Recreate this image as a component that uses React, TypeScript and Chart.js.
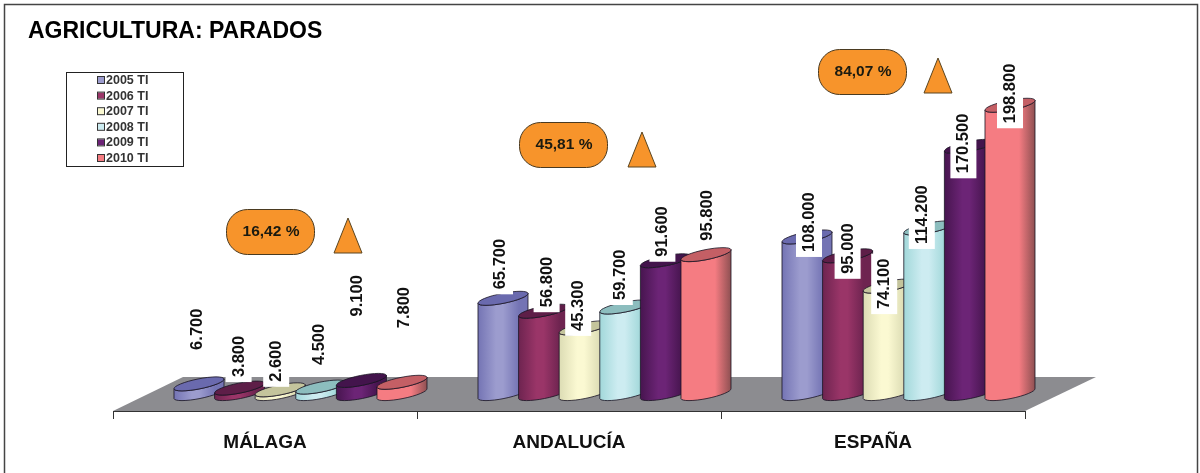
import React, { useEffect, useRef } from "react";
import { Chart, BarController, BarElement, registerables } from "chart.js";

const categories = ["MÁLAGA", "ANDALUCÍA", "ESPAÑA"];
const seriesNames = ["2005 TI", "2006 TI", "2007 TI", "2008 TI", "2009 TI", "2010 TI"];
const s2005 = [6700, 65700, 108000];
const s2006 = [3800, 56800, 95000];
const s2007 = [2600, 45300, 74100];
const s2008 = [4500, 59700, 114200];
const s2009 = [9100, 91600, 170500];
const s2010 = [7800, 95800, 198800];
const seriesValues = [s2005, s2006, s2007, s2008, s2009, s2010];
const changes = ["16,42 %", "45,81 %", "84,07 %"];

// styling
const FONT = '"Liberation Sans", Arial, sans-serif';
const bodyColors = ["#9C9CCE", "#9A3568", "#FBF9D2", "#CDECF1", "#6C2476", "#F57C82"];
const edgeColors = ["#7474B4", "#6E2450", "#DCDCB4", "#A2D8DA", "#47154F", "#8E5052"];
const capColors = ["#6A6AAE", "#5E1E48", "#C4C49C", "#8CBDBE", "#43144C", "#C45F65"];
const SHIFT = 35.5;
const TILT = 10;
const MINOR = 5;
// hand placement of the value labels, px relative to the top of each cylinder
const labelLift = [
  [34, 11, 8, 22, 64, 54],
  [9, 4, -3, 7, 4, 14],
  [-15, -18, -23, -16, -27, -18],
];
const labelDx = [
  [-2, -1, -4, -2, -4, 2],
  [-3, 3, -6, -5, -3, 1],
  [2, 0, -4, -7, -6, 0],
];
const callouts = [
  { text: changes[0], x: 226, y: 209, tx: 348, ty: 218 },
  { text: changes[1], x: 519, y: 122, tx: 642, ty: 132 },
  { text: changes[2], x: 818, y: 49, tx: 938, ty: 58 },
];

class CylinderElement extends (BarElement as any) {
  static id = "cylinder";
  draw(ctx: CanvasRenderingContext2D) {
    const self: any = this;
    const cx = self.x + SHIFT;
    const w = self.width;
    const top = self.y;
    const base = self.base;
    const color = self.options.backgroundColor;
    const idx = bodyColors.indexOf(color);
    const L = cx - w / 2;
    const R = cx + w / 2;
    const a = Math.hypot(w / 2, TILT / 2);
    const rot = -Math.atan(TILT / w);
    const g = ctx.createLinearGradient(L, 0, R, 0);
    if (idx === bodyColors.length - 1) {
      g.addColorStop(0, color);
      g.addColorStop(0.68, color);
      g.addColorStop(1, edgeColors[idx]);
    } else {
      g.addColorStop(0, edgeColors[idx]);
      g.addColorStop(0.36, color);
      g.addColorStop(0.5, color);
      g.addColorStop(0.82, edgeColors[idx]);
      g.addColorStop(1, edgeColors[idx]);
    }
    ctx.save();
    ctx.beginPath();
    ctx.ellipse(cx, base, a, MINOR, rot, Math.PI, 0, true);
    ctx.lineTo(R, top - TILT / 2);
    ctx.ellipse(cx, top, a, MINOR, rot, 0, Math.PI, false);
    ctx.closePath();
    ctx.fillStyle = g;
    ctx.fill();
    ctx.strokeStyle = "rgba(25,20,35,0.8)";
    ctx.lineWidth = 1;
    ctx.stroke();
    ctx.beginPath();
    ctx.ellipse(cx, top, a, MINOR, rot, 0, Math.PI * 2);
    ctx.fillStyle = capColors[idx];
    ctx.fill();
    ctx.stroke();
    ctx.restore();
  }
}

class CylinderController extends (BarController as any) {
  static id = "cylinder";
  static defaults = { ...(BarController as any).defaults, dataElementType: "cylinder" };
}

Chart.register(...registerables, CylinderElement as any, CylinderController as any);

const formatValue = (v: number) => String(v).replace(/\B(?=(\d{3})+$)/g, ".");

const scenePlugin = {
  id: "scene",
  beforeDraw(chart: any) {
    const { ctx } = chart;
    ctx.save();
    ctx.fillStyle = "#fff";
    ctx.fillRect(0, 0, chart.width, chart.height);
    ctx.strokeStyle = "#444";
    ctx.lineWidth = 1.5;
    ctx.beginPath();
    ctx.moveTo(4.5, chart.height);
    ctx.lineTo(4.5, 4.5);
    ctx.lineTo(1197.5, 4.5);
    ctx.lineTo(1197.5, chart.height);
    ctx.stroke();
    ctx.restore();
  },
  beforeDatasetsDraw(chart: any) {
    const { ctx, chartArea } = chart;
    const { left, right, bottom } = chartArea;
    // floor
    ctx.save();
    ctx.beginPath();
    ctx.moveTo(left, bottom);
    ctx.lineTo(left + 70, bottom - 34);
    ctx.lineTo(right + 71, bottom - 34);
    ctx.lineTo(right, bottom);
    ctx.closePath();
    ctx.fillStyle = "#8C8C90";
    ctx.fill();
    ctx.beginPath();
    ctx.moveTo(left, bottom + 0.5);
    ctx.lineTo(right, bottom + 0.5);
    ctx.strokeStyle = "#333";
    ctx.lineWidth = 1.2;
    ctx.stroke();
    ctx.restore();

    // later years overlap earlier ones
    chart.data.datasets.forEach((_: any, i: number) => {
      chart.getDatasetMeta(i).controller.draw();
    });

    // value labels
    ctx.save();
    ctx.font = `bold 16.5px ${FONT}`;
    chart.data.datasets.forEach((ds: any, i: number) => {
      chart.getDatasetMeta(i).data.forEach((bar: any, c: number) => {
        const text = formatValue(ds.data[c]);
        const tw = ctx.measureText(text).width;
        const px = bar.x + SHIFT + labelDx[c][i];
        const py = bar.y - labelLift[c][i];
        ctx.fillStyle = "#fff";
        ctx.fillRect(px - 13, py - tw - 5, 26, tw + 10);
        ctx.save();
        ctx.translate(px, py);
        ctx.rotate(-Math.PI / 2);
        ctx.fillStyle = "#111";
        ctx.textAlign = "left";
        ctx.textBaseline = "middle";
        ctx.fillText(text, 0, 0.5);
        ctx.restore();
      });
    });
    ctx.restore();
    return false;
  },
  afterDraw(chart: any) {
    const { ctx } = chart;
    ctx.save();
    // legend
    ctx.fillStyle = "#fff";
    ctx.fillRect(66, 72, 118, 95);
    ctx.strokeStyle = "#222";
    ctx.lineWidth = 1;
    ctx.strokeRect(66.5, 72.5, 117, 94);
    ctx.font = `bold 12.5px ${FONT}`;
    ctx.textBaseline = "middle";
    ctx.textAlign = "left";
    seriesNames.forEach((name, i) => {
      const y = 80 + i * 15.6;
      ctx.fillStyle = bodyColors[i];
      ctx.fillRect(98, y - 3, 6, 6);
      ctx.strokeStyle = "#333";
      ctx.strokeRect(97.5, y - 3.5, 7, 7);
      ctx.fillStyle = "#333";
      ctx.fillText(name, 106, y + 0.5);
    });
    // callouts
    callouts.forEach((c) => {
      ctx.beginPath();
      ctx.roundRect(c.x + 0.5, c.y + 0.5, 88, 45, 21);
      ctx.fillStyle = "#F7942B";
      ctx.fill();
      ctx.strokeStyle = "#4A3A20";
      ctx.lineWidth = 1;
      ctx.stroke();
      ctx.fillStyle = "#1a1a10";
      ctx.font = `bold 15.5px ${FONT}`;
      ctx.textAlign = "center";
      ctx.fillText(c.text, c.x + 45, c.y + 22.5);
      ctx.beginPath();
      ctx.moveTo(c.tx, c.ty);
      ctx.lineTo(c.tx + 14, c.ty + 35);
      ctx.lineTo(c.tx - 14, c.ty + 35);
      ctx.closePath();
      ctx.fillStyle = "#F7942B";
      ctx.fill();
      ctx.strokeStyle = "#5A4520";
      ctx.stroke();
    });
    ctx.restore();
  },
};

export default function App() {
  const ref = useRef<HTMLCanvasElement | null>(null);
  useEffect(() => {
    document.body.style.margin = "0";
    const chart = new Chart(ref.current as any, {
      type: "cylinder" as any,
      data: {
        labels: categories,
        datasets: seriesNames.map((name, i) => ({
          label: name,
          data: seriesValues[i],
          backgroundColor: bodyColors[i],
          categoryPercentage: 0.8013,
          barPercentage: 1.232,
        })),
      },
      options: {
        responsive: false,
        animation: false,
        devicePixelRatio: 1,
        layout: { padding: { left: 28, right: 175, top: 0, bottom: 0 } },
        plugins: {
          legend: { display: false },
          tooltip: { enabled: false },
          title: {
            display: true,
            text: "AGRICULTURA: PARADOS",
            align: "start",
            color: "#000",
            font: { family: FONT, size: 23, weight: "bold" },
            padding: { top: 18, bottom: 14.4 },
          },
        },
        scales: {
          x: {
            type: "category",
            offset: true,
            afterFit: (s: any) => {
              s.height = 62;
            },
            border: { display: false },
            grid: {
              offset: true,
              drawOnChartArea: false,
              drawTicks: true,
              tickLength: 8,
              tickColor: "#333",
              tickWidth: 1,
            },
            ticks: {
              color: "#111",
              font: { family: FONT, size: 19, weight: "bold" },
              padding: 12,
              maxRotation: 0,
            },
          },
          y: {
            type: "linear",
            min: -12000,
            max: 230000,
            afterFit: (s: any) => {
              s.width = 85;
            },
            border: { display: false },
            grid: { display: false },
            ticks: { display: false },
          },
        },
      } as any,
      plugins: [scenePlugin as any],
    });
    return () => chart.destroy();
  }, []);
  return (
    <div style={{ width: 1200, height: 473 }}>
      <canvas ref={ref} width={1200} height={473} style={{ display: "block" }} />
    </div>
  );
}
